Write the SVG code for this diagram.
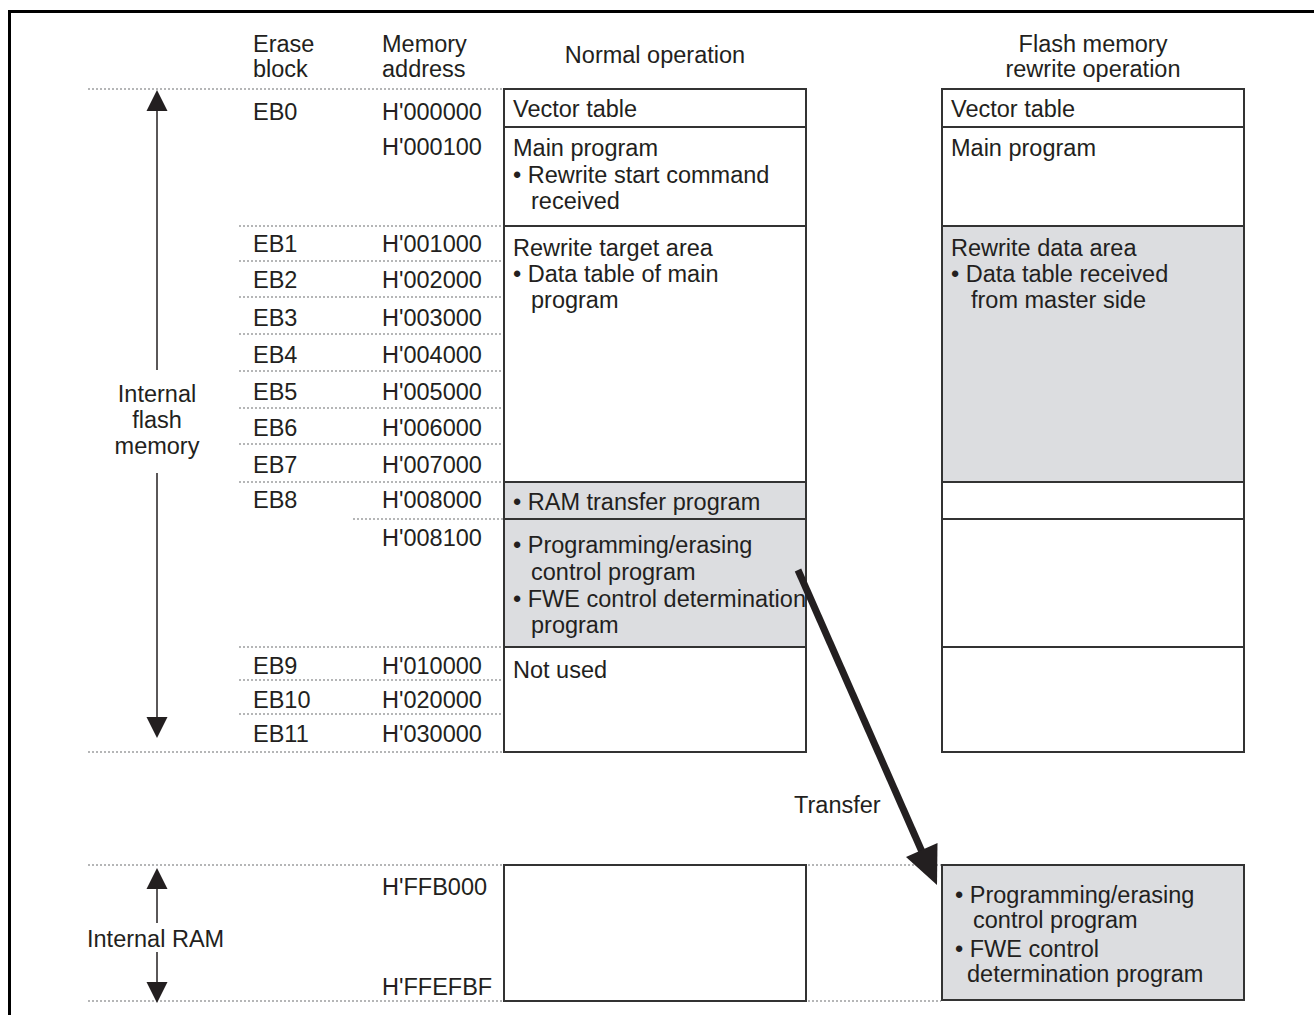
<svg xmlns="http://www.w3.org/2000/svg" width="1314" height="1015" viewBox="0 0 1314 1015">
  <style>
    text { font-family: "Liberation Sans", Arial, sans-serif; font-size: 23.5px; fill: #231f20; }
    .mid { text-anchor: middle; }
    .cell { fill: #ffffff; stroke: #333333; stroke-width: 2; }
    .shade { fill: #dcdde0; stroke: #333333; stroke-width: 2; }
    .dot { stroke: #6d6e71; stroke-width: 1.2; stroke-dasharray: 2 2; fill: none; }
    .axis { stroke: #231f20; stroke-width: 1.5; fill: none; }
    .head { fill: #231f20; }
  </style>

  <!-- frame -->
  <path d="M9.5,1015 V11.5 H1314" fill="none" stroke="#000000" stroke-width="3"/>

  <!-- column headings -->
  <g id="headings">
    <text x="253" y="52">Erase</text>
    <text x="253" y="77">block</text>
    <text x="382" y="52">Memory</text>
    <text x="382" y="77">address</text>
    <text x="655" y="63" class="mid">Normal operation</text>
    <text x="1093" y="52" class="mid">Flash memory</text>
    <text x="1093" y="77" class="mid">rewrite operation</text>
  </g>

  <!-- dotted boundary guides -->
  <g id="guides">
    <line class="dot" x1="88" y1="89" x2="504" y2="89"/>
    <line class="dot" x1="239" y1="226" x2="504" y2="226"/>
    <line class="dot" x1="239" y1="261" x2="504" y2="261"/>
    <line class="dot" x1="239" y1="297" x2="504" y2="297"/>
    <line class="dot" x1="239" y1="334" x2="504" y2="334"/>
    <line class="dot" x1="239" y1="371" x2="504" y2="371"/>
    <line class="dot" x1="239" y1="408" x2="504" y2="408"/>
    <line class="dot" x1="239" y1="444" x2="504" y2="444"/>
    <line class="dot" x1="239" y1="482" x2="504" y2="482"/>
    <line class="dot" x1="353" y1="519" x2="504" y2="519"/>
    <line class="dot" x1="239" y1="647" x2="504" y2="647"/>
    <line class="dot" x1="239" y1="680" x2="504" y2="680"/>
    <line class="dot" x1="239" y1="714" x2="504" y2="714"/>
    <line class="dot" x1="88" y1="752" x2="504" y2="752"/>
    <line class="dot" x1="88" y1="865" x2="941" y2="865"/>
    <line class="dot" x1="88" y1="1001" x2="941" y2="1001"/>
  </g>

  <!-- erase block labels -->
  <g id="erase-blocks">
    <text x="253" y="120">EB0</text>
    <text x="253" y="252">EB1</text>
    <text x="253" y="288">EB2</text>
    <text x="253" y="326">EB3</text>
    <text x="253" y="363">EB4</text>
    <text x="253" y="400">EB5</text>
    <text x="253" y="436">EB6</text>
    <text x="253" y="473">EB7</text>
    <text x="253" y="508">EB8</text>
    <text x="253" y="674">EB9</text>
    <text x="253" y="708">EB10</text>
    <text x="253" y="742">EB11</text>
  </g>

  <!-- memory addresses -->
  <g id="addresses">
    <text x="382" y="120">H'000000</text>
    <text x="382" y="155">H'000100</text>
    <text x="382" y="252">H'001000</text>
    <text x="382" y="288">H'002000</text>
    <text x="382" y="326">H'003000</text>
    <text x="382" y="363">H'004000</text>
    <text x="382" y="400">H'005000</text>
    <text x="382" y="436">H'006000</text>
    <text x="382" y="473">H'007000</text>
    <text x="382" y="508">H'008000</text>
    <text x="382" y="546">H'008100</text>
    <text x="382" y="674">H'010000</text>
    <text x="382" y="708">H'020000</text>
    <text x="382" y="742">H'030000</text>
    <text x="382" y="895">H'FFB000</text>
    <text x="382" y="995">H'FFEFBF</text>
  </g>

  <!-- range markers on the left -->
  <g id="flash-range">
    <line class="axis" x1="157" y1="108" x2="157" y2="370"/>
    <line class="axis" x1="157" y1="473" x2="157" y2="719"/>
    <polygon class="head" points="157,90 146.5,111 167.5,111"/>
    <polygon class="head" points="157,738 146.5,717 167.5,717"/>
    <text x="157" y="402" class="mid">Internal</text>
    <text x="157" y="428" class="mid">flash</text>
    <text x="157" y="454" class="mid">memory</text>
  </g>
  <g id="ram-range">
    <line class="axis" x1="157" y1="886" x2="157" y2="923"/>
    <line class="axis" x1="157" y1="952" x2="157" y2="984"/>
    <polygon class="head" points="157,868 146.5,889 167.5,889"/>
    <polygon class="head" points="157,1003 146.5,982 167.5,982"/>
    <text x="87" y="947">Internal RAM</text>
  </g>

  <!-- normal operation map -->
  <g id="normal-vector">
    <rect class="cell" x="504" y="89" width="302" height="38"/>
    <text x="513" y="117">Vector table</text>
  </g>
  <g id="normal-main">
    <rect class="cell" x="504" y="127" width="302" height="99"/>
    <text x="513" y="156">Main program</text>
    <text x="513" y="183">• Rewrite start command</text>
    <text x="531" y="209">received</text>
  </g>
  <g id="normal-target">
    <rect class="cell" x="504" y="226" width="302" height="256"/>
    <text x="513" y="256">Rewrite target area</text>
    <text x="513" y="282">• Data table of main</text>
    <text x="531" y="308">program</text>
  </g>
  <g id="normal-ramxfer">
    <rect class="shade" x="504" y="482" width="302" height="37"/>
    <text x="513" y="510">• RAM transfer program</text>
  </g>
  <g id="normal-control">
    <rect class="shade" x="504" y="519" width="302" height="128"/>
    <text x="513" y="553">• Programming/erasing</text>
    <text x="531" y="580">control program</text>
    <text x="513" y="607">• FWE control determination</text>
    <text x="531" y="633">program</text>
  </g>
  <g id="normal-unused">
    <rect class="cell" x="504" y="647" width="302" height="105"/>
    <text x="513" y="678">Not used</text>
  </g>
  <g id="normal-ram">
    <rect class="cell" x="504" y="865" width="302" height="136"/>
  </g>

  <!-- rewrite operation map -->
  <g id="rewrite-vector">
    <rect class="cell" x="942" y="89" width="302" height="38"/>
    <text x="951" y="117">Vector table</text>
  </g>
  <g id="rewrite-main">
    <rect class="cell" x="942" y="127" width="302" height="99"/>
    <text x="951" y="156">Main program</text>
  </g>
  <g id="rewrite-data">
    <rect class="shade" x="942" y="226" width="302" height="256"/>
    <text x="951" y="256">Rewrite data area</text>
    <text x="951" y="282">• Data table received</text>
    <text x="971" y="308">from master side</text>
  </g>
  <g id="rewrite-eb8a">
    <rect class="cell" x="942" y="482" width="302" height="37"/>
  </g>
  <g id="rewrite-eb8b">
    <rect class="cell" x="942" y="519" width="302" height="128"/>
  </g>
  <g id="rewrite-unused">
    <rect class="cell" x="942" y="647" width="302" height="105"/>
  </g>
  <g id="rewrite-ram">
    <rect class="shade" x="942" y="865" width="302" height="135"/>
    <text x="955" y="903">• Programming/erasing</text>
    <text x="973" y="928">control program</text>
    <text x="955" y="957">• FWE control</text>
    <text x="967" y="982">determination program</text>
  </g>

  <!-- transfer connector -->
  <g id="connectors">
    <line x1="798" y1="570" x2="923" y2="854" stroke="#231f20" stroke-width="7"/>
    <polygon class="head" points="937,885 937.5,843 906,857"/>
    <text x="794" y="813">Transfer</text>
  </g>
</svg>
